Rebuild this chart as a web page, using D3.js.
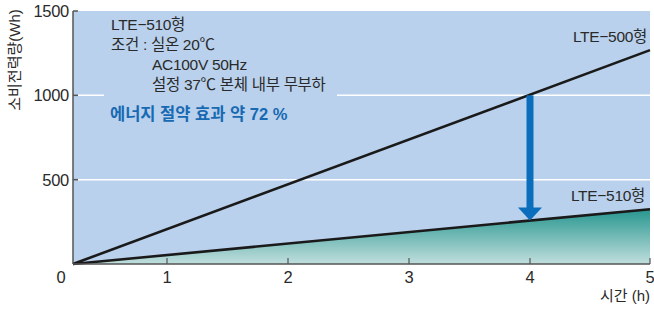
<!DOCTYPE html>
<html><head><meta charset="utf-8">
<script src="https://cdn.jsdelivr.net/npm/d3@7"></script>
<style>
html,body{margin:0;padding:0;background:#fff;}
svg{display:block;font-family:"Liberation Sans","Noto Sans CJK KR",sans-serif;}
</style></head>
<body><svg id="c" width="654" height="313"></svg>
<script>
const hours = [0, 1, 2, 3, 4, 5];
const yTicks = [500, 1000, 1500];
const gridValues = [500, 1000];
const series500 = [{t: 0, v: 0}, {t: 5, v: 1268}];
const series510 = [{t: 0, v: 0}, {t: 5, v: 325}];
const arrowAt = 4, arrowFrom = 1000, arrowTo = 258;
const label500 = "LTE\u2212500형", label510 = "LTE\u2212510형";
const infoLines = ["LTE\u2212510형", "조건 : 실온 20℃", "AC100V 50Hz", "설정 37℃ 본체 내부 무부하"];
const savingText = "에너지 절약 효과 약 72 %";
const yTitle = "소비전력량(Wh)", xTitle = "시간 (h)";

const svg = d3.select("#c");
const x = d3.scaleLinear().domain(hours).range([73, 167, 288, 409, 530, 650]);
const y = d3.scaleLinear().domain([0, 1500]).range([264, 11]);
const x0 = x(0), x1 = x(5), yb = y(0), yt = y(1500);

svg.append("rect").attr("x", x0).attr("y", yt).attr("width", x1 - x0).attr("height", yb - yt).attr("fill", "#b9d1ec");

const defs = svg.append("defs");
const g = defs.append("linearGradient").attr("id", "tealg").attr("gradientUnits", "userSpaceOnUse")
  .attr("x1", 0).attr("x2", 0).attr("y1", y(325)).attr("y2", yb);
g.append("stop").attr("offset", "0%").attr("stop-color", "#27968f");
g.append("stop").attr("offset", "100%").attr("stop-color", "#c0dedd");

svg.selectAll(".grid").data(gridValues).enter().append("line")
  .attr("x1", x0 + 5).attr("x2", x1).attr("y1", d => y(d)).attr("y2", d => y(d))
  .attr("stroke", "#fff").attr("stroke-width", 1.5);

svg.append("path").datum(series510)
  .attr("d", d3.area().x(d => x(d.t)).y0(yb).y1(d => y(d.v)))
  .attr("fill", "url(#tealg)");

svg.append("rect").attr("x", 104).attr("y", 14).attr("width", 233).attr("height", 112).attr("fill", "#b9d1ec");

const line = d3.line().x(d => x(d.t)).y(d => y(d.v));
[series500, series510].forEach(s => {
  svg.append("path").datum(s).attr("d", line).attr("fill", "none")
    .attr("stroke", "#1a1a1a").attr("stroke-width", 2.6);
});

const ax = x(arrowAt), ay0 = y(arrowFrom), ay1 = y(arrowTo);
const headH = 13, headW = 24, shaftW = 7;
svg.append("rect").attr("x", ax - shaftW / 2).attr("y", ay0).attr("width", shaftW).attr("height", ay1 - headH - ay0 + 1).attr("fill", "#0a6ebd");
svg.append("path").attr("d", `M${ax - headW / 2},${ay1 - headH} L${ax + headW / 2},${ay1 - headH} L${ax},${ay1} Z`).attr("fill", "#0a6ebd");

const axCol = "#555";
svg.append("line").attr("x1", x0).attr("x2", x0).attr("y1", yt).attr("y2", yb).attr("stroke", axCol).attr("stroke-width", 1.5);
svg.append("line").attr("x1", x0).attr("x2", x1).attr("y1", yb).attr("y2", yb).attr("stroke", axCol).attr("stroke-width", 1.5);
svg.selectAll(".yt").data(yTicks).enter().append("line")
  .attr("x1", x0).attr("x2", x0 + 5).attr("y1", d => y(d)).attr("y2", d => y(d)).attr("stroke", axCol).attr("stroke-width", 1.5);
svg.selectAll(".xt").data(hours.slice(1)).enter().append("line")
  .attr("x1", d => x(d)).attr("x2", d => x(d)).attr("y1", yb).attr("y2", yb - 6).attr("stroke", axCol).attr("stroke-width", 1.2);

const txtCol = "#2a2a2a";
svg.selectAll(".yl").data(yTicks).enter().append("text")
  .attr("x", 69).attr("y", d => y(d) + 6).attr("text-anchor", "end")
  .attr("font-size", 16.5).attr("letter-spacing", -0.3).attr("fill", txtCol).text(d => d);
svg.append("text").attr("x", 61).attr("y", 283).attr("text-anchor", "middle")
  .attr("font-size", 16.5).attr("fill", txtCol).text("0");
svg.selectAll(".xl").data(hours.slice(1)).enter().append("text")
  .attr("x", d => x(d)).attr("y", 283).attr("text-anchor", "middle")
  .attr("font-size", 16.5).attr("fill", txtCol).text(d => d);

svg.append("text").attr("transform", "translate(20,60) rotate(-90)").attr("text-anchor", "middle")
  .attr("font-size", 15).attr("fill", txtCol).text(yTitle);
svg.append("text").attr("x", 600).attr("y", 301).attr("font-size", 15).attr("fill", txtCol).text(xTitle);

svg.append("text").attr("x", 647).attr("y", 42).attr("text-anchor", "end").attr("font-size", 15.5).attr("letter-spacing", -0.3).attr("fill", txtCol).text(label500);
svg.append("text").attr("x", 645).attr("y", 201).attr("text-anchor", "end").attr("font-size", 15.5).attr("letter-spacing", -0.3).attr("fill", txtCol).text(label510);

const infoX = [111, 111, 152, 152];
infoLines.forEach((t, i) => {
  svg.append("text").attr("x", infoX[i]).attr("y", 30 + i * 20).attr("font-size", 15.5).attr("letter-spacing", -0.3).attr("fill", txtCol).text(t);
});
svg.append("text").attr("x", 110).attr("y", 120).attr("font-size", 16.5).attr("font-weight", "bold").attr("fill", "#1769b2").text(savingText);
</script></body></html>
